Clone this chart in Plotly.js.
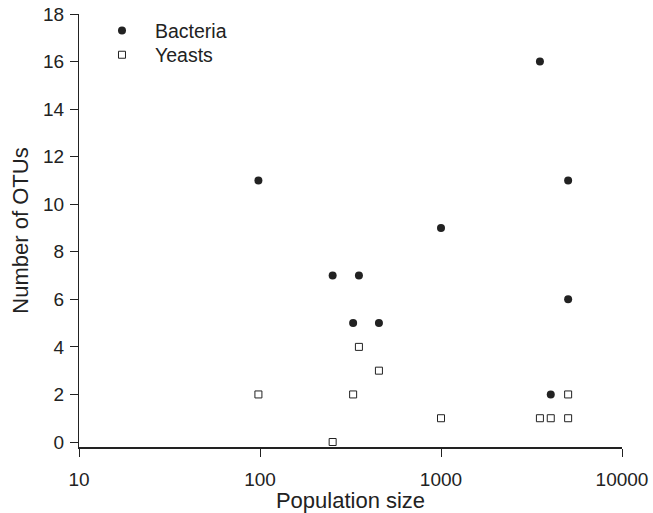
<!DOCTYPE html>
<html>
<head>
<meta charset="utf-8">
<script src="https://cdn.plot.ly/plotly-3.0.1.min.js"></script>
<style>html,body{margin:0;padding:0;background:#fff;}#chart{width:653px;height:513px;}</style>
</head>
<body>
<div id="chart"></div>
<script>
// Data
var bacteriaX = [98, 252, 352, 327, 454, 1000, 3520, 5040, 5040, 4040];
var bacteriaY = [11, 7, 7, 5, 5, 9, 16, 11, 6, 2];
var yeastsX = [98, 252, 327, 352, 454, 1000, 3520, 4040, 5040, 5040];
var yeastsY = [2, 0, 2, 4, 3, 1, 1, 1, 1, 2];
var xTickVals = [10, 100, 1000, 10000];
var xTickText = ["10", "100", "1000", "10000"];
var yTickVals = [0, 2, 4, 6, 8, 10, 12, 14, 16, 18];

var ink = "#222222";
var traces = [
  {
    x: bacteriaX, y: bacteriaY, name: "Bacteria", type: "scatter", mode: "markers",
    legend: "legend",
    marker: {symbol: "circle", size: 8, color: ink}
  },
  {
    x: yeastsX, y: yeastsY, name: "Yeasts", type: "scatter", mode: "markers",
    legend: "legend2",
    marker: {symbol: "square-open", size: 7, color: ink, line: {width: 1, color: ink}}
  }
];

var legendBase = {
  xanchor: "left", yanchor: "top",
  bgcolor: "rgba(0,0,0,0)", borderwidth: 0,
  font: {size: 19.5, color: ink}, itemwidth: 56
};

var layout = {
  width: 653, height: 513,
  margin: {l: 79, r: 31, t: 13, b: 66},
  paper_bgcolor: "#ffffff", plot_bgcolor: "#ffffff",
  font: {family: "'Liberation Sans', Arial, sans-serif", size: 19, color: ink},
  showlegend: true,
  legend: Object.assign({x: 0.0184, y: 1.004}, legendBase),
  legend2: Object.assign({x: 0.0184, y: 0.948}, legendBase),
  xaxis: {
    type: "log", range: [1, 4],
    tickmode: "array", tickvals: xTickVals, ticktext: xTickText,
    ticks: "outside", ticklen: 8, tickwidth: 1, tickcolor: ink,
    showline: true, linewidth: 2, linecolor: ink,
    showgrid: false, zeroline: false, automargin: false,
    tickfont: {size: 19, color: ink}, ticklabelstandoff: 6,
    title: {text: "Population size", font: {size: 22, color: ink}, standoff: 3}
  },
  yaxis: {
    range: [-0.21, 18],
    tickmode: "array", tickvals: yTickVals,
    ticks: "outside", ticklen: 8, tickwidth: 1, tickcolor: ink,
    showline: true, linewidth: 1, linecolor: ink,
    showgrid: false, zeroline: false, automargin: false,
    tickfont: {size: 19, color: ink}, ticklabelstandoff: 2,
    title: {text: "Number of OTUs", font: {size: 22, color: ink}, standoff: 8}
  }
};

Plotly.newPlot("chart", traces, layout, {displayModeBar: false, staticPlot: true});
</script>
</body>
</html>
